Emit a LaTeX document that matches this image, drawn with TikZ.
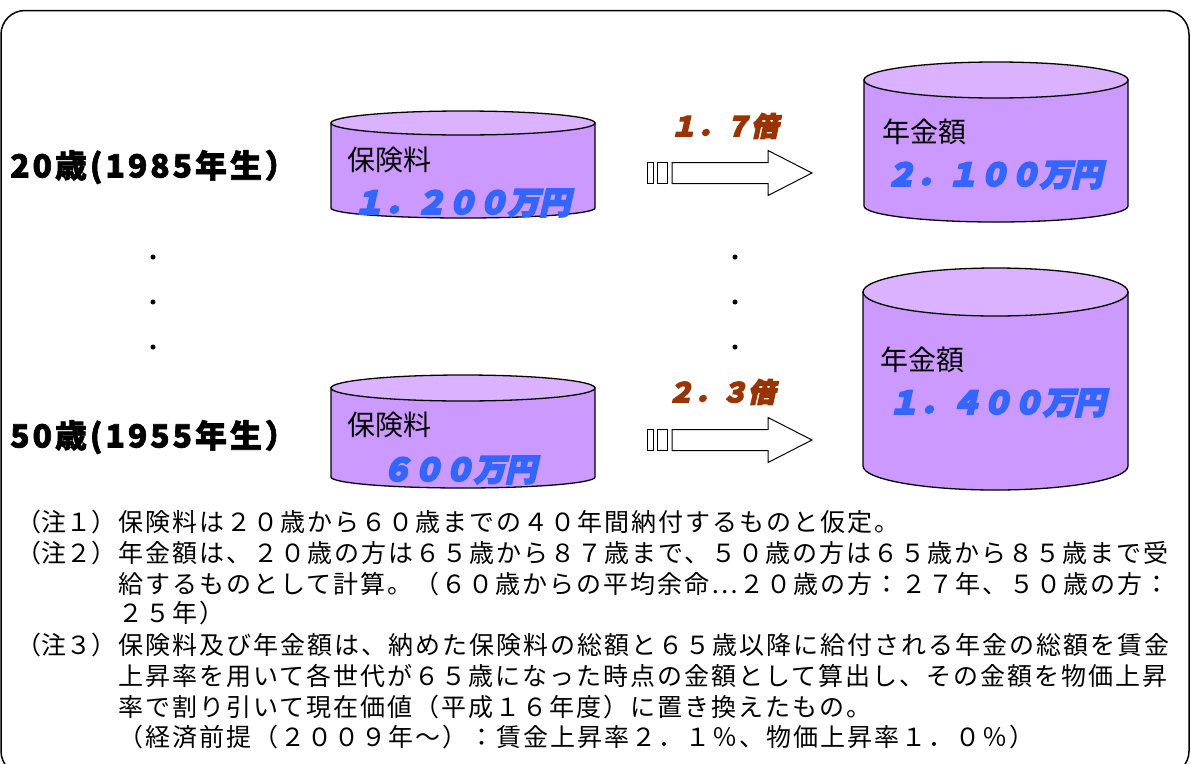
\documentclass[tikz,border=0pt]{standalone}
\usepackage{fontspec}
\setmainfont{Noto Sans CJK JP}
\newfontfamily\genfont[LetterSpace=9]{Noto Sans CJK JP}
\newfontfamily\popfont[FakeSlant=0.22]{Noto Sans CJK JP}
\newfontfamily\notefont[LetterSpace=8]{Noto Sans CJK JP}
\newfontfamily\notelabfont{Noto Sans CJK JP}
\definecolor{cylbody}{HTML}{CC99FF}
\definecolor{cyltop}{HTML}{DAB2FF}
\definecolor{numblue}{HTML}{3366FF}
\definecolor{ratebrown}{HTML}{993300}
% heavier text: fill and stroke the glyph outlines
\newcommand\heavytext[2]{\special{pdf:literal direct 2 Tr #1 w}#2\special{pdf:literal direct 0 Tr}}
\tikzset{
  cylline/.style={draw=black, line width=1.3pt},
  lbl/.style={font=\fontsize{28}{32}\selectfont, anchor=west, inner sep=0pt},
  num/.style={font=\popfont\bfseries\fontsize{31}{34}\selectfont, text=numblue, anchor=west, inner sep=0pt},
  rate/.style={font=\popfont\bfseries\fontsize{27}{30}\selectfont, text=ratebrown, inner sep=0pt},
  gen/.style={font=\genfont\bfseries\fontsize{32}{36}\selectfont, anchor=west, inner sep=0pt},
  note/.style={font=\notefont\fontsize{25}{30}\selectfont, anchor=west, inner sep=0pt},
  notelab/.style={font=\notelabfont\fontsize{25}{30}\selectfont, anchor=west, inner sep=0pt},
  blockarrow/.style={draw=black, line width=1pt, fill=white},
  dotmark/.style={fill=black, circle, inner sep=0pt, minimum size=5pt},
}
% name, x1, x2, ytop, ry top, ybottom, ry bottom
\newcommand\mycyl[7]{%
  \path[fill=cylbody, cylline] (#2,#4) -- (#2,#6)
     arc[start angle=180, end angle=0, x radius={(#3-#2)/2}, y radius=#7]
     -- (#3,#4) -- cycle;
  \path[fill=cyltop, cylline] ({(#2+#3)/2},#4) ellipse [x radius={(#3-#2)/2}, y radius=#5];
  \coordinate (#1) at ({(#2+#3)/2},{(#4+#6)/2});
}
% name, y centre
\newcommand\stripearrow[2]{%
  \draw[blockarrow] (647,#2-10.5) rectangle (653,#2+10.5);
  \draw[blockarrow] (657,#2-10.5) rectangle (667,#2+10.5);
  \draw[blockarrow] (672,#2-10.5) -- (768,#2-10.5) -- (768,#2-22.5) -- (812,#2)
     -- (768,#2+22.5) -- (768,#2+10.5) -- (672,#2+10.5) -- cycle;
  \coordinate (#1) at (740,#2);
}
\begin{document}
\begin{tikzpicture}[x=1pt,y=-1pt]
\useasboundingbox (0,0) rectangle (1191,763);
\fill[white] (0,0) rectangle (1191,763);
\draw[line width=1.5pt, rounded corners=24pt] (1,10.5) rectangle (1189,775);

% cylinders
\mycyl{premA}{331}{595}{123}{12}{208}{10}
\mycyl{premB}{331}{595}{388}{13}{477}{11}
\mycyl{penA}{864}{1128}{80}{18}{206}{16}
\mycyl{penB}{863}{1128}{292}{24}{466}{24}

\node[lbl] (premAt) at (347,160) {保険料};
\node[num] (premAn) at (353,203) {\heavytext{2}{１．２００万円}};
\node[lbl] (premBt) at (347,425) {保険料};
\node[num] (premBn) at (381,470) {\heavytext{2}{６００万円}};
\node[lbl] (penAt) at (882,132) {年金額};
\node[num] (penAn) at (885,175) {\heavytext{2}{２．１００万円}};
\node[lbl] (penBt) at (880,360) {年金額};
\node[num] (penBn) at (888,403) {\heavytext{2}{１．４００万円}};

% arrows
\stripearrow{arrA}{173}
\stripearrow{arrB}{440}
\node[rate] (rateA) at (724,126) {\heavytext{1.4}{１．７倍}};
\node[rate] (rateB) at (721,392) {\heavytext{1.4}{２．３倍}};

% generations
\node[gen] (genA) at (10,167) {\heavytext{0.6}{20歳(1985年生）}};
\node[gen] (genB) at (10,437) {\heavytext{0.6}{50歳(1955年生）}};

% dots
\foreach \yy [count=\i] in {257,302,347}{
  \node[dotmark] (dl\i) at (153,\yy) {};
  \node[dotmark] (dr\i) at (735,\yy) {};
}

% notes
\node[notelab] (n1l) at (16,522) {（注１）};
\node[note] (n1) at (118,522) {保険料は２０歳から６０歳までの４０年間納付するものと仮定。};
\node[notelab] (n2l) at (16,553) {（注２）};
\node[note] (n2) at (118,553) {年金額は、２０歳の方は６５歳から８７歳まで、５０歳の方は６５歳から８５歳まで受};
\node[note] (n3) at (118,584) {給するものとして計算。（６０歳からの平均余命⋯２０歳の方：２７年、５０歳の方：};
\node[note] (n4) at (118,613) {２５年）};
\node[notelab] (n5l) at (16,645) {（注３）};
\node[note] (n5) at (118,645) {保険料及び年金額は、納めた保険料の総額と６５歳以降に給付される年金の総額を賃金};
\node[note] (n6) at (118,676) {上昇率を用いて各世代が６５歳になった時点の金額として算出し、その金額を物価上昇};
\node[note] (n7) at (118,707) {率で割り引いて現在価値（平成１６年度）に置き換えたもの。};
\node[note] (n8) at (118,737) {（経済前提（２００９年～）：賃金上昇率２．１％、物価上昇率１．０％）};
\end{tikzpicture}
\end{document}
